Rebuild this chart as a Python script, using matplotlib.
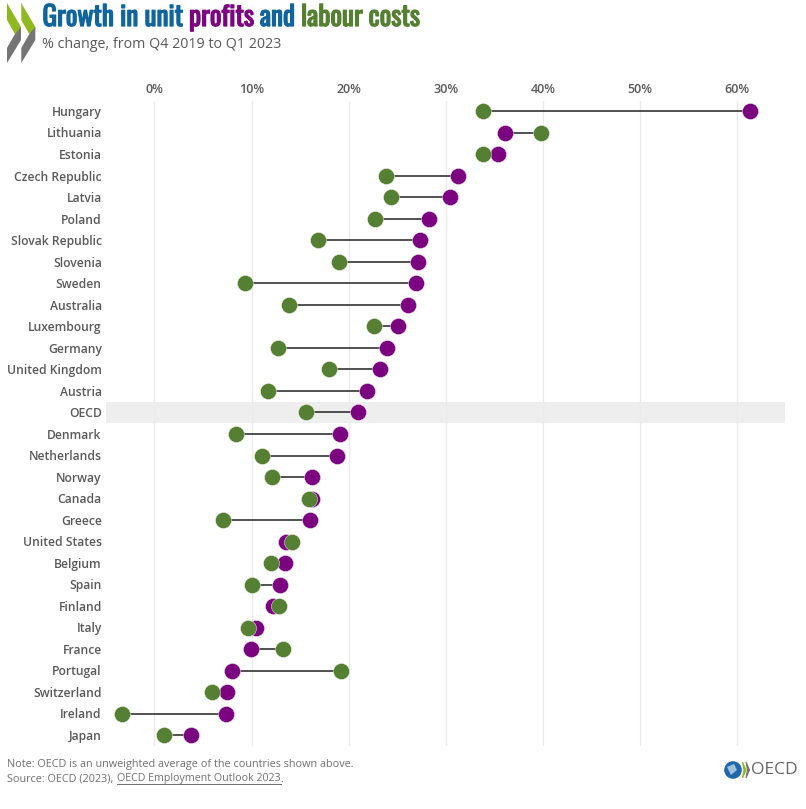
import matplotlib
matplotlib.use("Agg")
import matplotlib.pyplot as plt
import matplotlib.patheffects as pe
from matplotlib.transforms import ScaledTranslation
import numpy as np
from matplotlib.patches import Polygon, Circle

countries = ["Hungary", "Lithuania", "Estonia", "Czech Republic", "Latvia", "Poland",
             "Slovak Republic", "Slovenia", "Sweden", "Australia", "Luxembourg", "Germany",
             "United Kingdom", "Austria", "OECD", "Denmark", "Netherlands", "Norway",
             "Canada", "Greece", "United States", "Belgium", "Spain", "Finland", "Italy",
             "France", "Portugal", "Switzerland", "Ireland", "Japan"]
profits = [61.3, 36.1, 35.4, 31.3, 30.4, 28.3, 27.3, 27.1, 26.9, 26.1, 25.1, 23.9,
           23.2, 21.9, 21.0, 19.1, 18.8, 16.2, 16.2, 16.0, 13.5, 13.4, 12.9, 12.2,
           10.5, 9.9, 8.0, 7.5, 7.4, 3.8]
labour = [33.8, 39.8, 33.8, 23.8, 24.4, 22.7, 16.8, 19.0, 9.3, 13.9, 22.6, 12.7,
          18.0, 11.7, 15.6, 8.4, 11.1, 12.1, 15.9, 7.1, 14.2, 12.0, 10.0, 12.8,
          9.6, 13.2, 19.2, 5.9, -3.3, 1.0]
ticks = [0, 10, 20, 30, 40, 50, 60]

PURPLE = "#7b0380"
GREEN = "#558033"
BLUE = "#0f659c"
TEXT = "#5a5a5a"
NOTE = "#707070"

W, H = 806, 809
plt.rcParams["font.family"] = ["Open Sans", "Noto Sans", "DejaVu Sans"]
fig = plt.figure(figsize=(W / 100, H / 100), dpi=100)

# axes placed in pixels so the rows line up with the reference
ax = fig.add_axes([106 / W, 1 - 746 / H, (785 - 106) / W, (746 - 100.5) / H])
y = np.arange(len(countries))
ax.set_xlim(-4.99, 64.93)
ax.set_ylim(len(countries) - 0.5, -0.5)

ax.axhspan(countries.index("OECD") - 0.5, countries.index("OECD") + 0.5, color="#eeeeee", zorder=0, lw=0)
ax.hlines(y, profits, labour, color="#222222", lw=1.1, zorder=2)
ax.scatter(profits, y, s=135, color=PURPLE, edgecolor="white", linewidth=0.3, zorder=3)
ax.scatter(labour, y, s=135, color=GREEN, edgecolor="white", linewidth=0.3, zorder=4)

ax.set_xticks(ticks)
ax.set_xticklabels([f"{t}%" for t in ticks], fontsize=9, color=TEXT, fontweight=600)
ax.xaxis.tick_top()
ax.set_yticks(y)
ax.set_yticklabels(countries, fontsize=8.7, color=TEXT, fontweight=600)
ax.tick_params(axis="both", length=0)
ax.tick_params(axis="x", pad=3.2)
ax.tick_params(axis="y", pad=3)
# labels sit a touch off the row centres otherwise
nudge = ScaledTranslation(0, 0.3 / 100, fig.dpi_scale_trans)
for lab in ax.get_yticklabels():
    lab.set_transform(lab.get_transform() + nudge)
ax.grid(axis="x", color="#ebebeb", lw=1)
ax.set_axisbelow(True)
for s in ax.spines.values():
    s.set_visible(False)

# title pieces in their own colours, each one starts where the last one ended
renderer = fig.canvas.get_renderer()
x = 42.5
for word, col in [("Growth in unit", BLUE), ("profits", PURPLE), ("and", BLUE),
                  ("labour", GREEN), ("costs", GREEN)]:
    t = fig.text(x / W, 1 - 26 / H, word, fontsize=19.6, color=col,
                 family=["Oswald", "Roboto Condensed", "DejaVu Sans"], va="baseline", ha="left",
                 path_effects=[pe.withStroke(linewidth=0.9, foreground=col)])
    x += t.get_window_extent(renderer).width + 6

fig.text(42.5 / W, 1 - 44 / H, "% change, from Q4 2019 to Q1 2023", fontsize=10.25, color=TEXT, va="center")

fig.text(7 / W, 1 - 764.5 / H, "Note: OECD is an unweighted average of the countries shown above.",
         fontsize=7.8, color=NOTE, va="center")
fig.text(7 / W, 1 - 779 / H, "Source: OECD (2023), ", fontsize=7.8, color=NOTE, va="center")
src = fig.text(117 / W, 1 - 779 / H, "OECD Employment Outlook 2023", fontsize=7.7, color=NOTE,
               va="center")
src_w = src.get_window_extent(renderer).width
fig.add_artist(plt.Line2D([117 / W, (117 + src_w) / W], [1 - 784 / H] * 2, color=NOTE, lw=0.7))
fig.text((117 + src_w) / W, 1 - 779 / H, ".", fontsize=7.8, color=NOTE, va="center")

# logo is drawn on a full-figure axes in pixel coordinates
deco = fig.add_axes([0, 0, 1, 1])
deco.set_xlim(0, W)
deco.set_ylim(H, 0)
deco.axis("off")
deco.patch.set_alpha(0)
for dx in (0, 14.3):
    deco.add_patch(Polygon([(7 + dx, 3), (21 + dx, 27), (21 + dx, 30), (15 + dx, 34), (7 + dx, 20)], color="#8fb91f", lw=0))
    deco.add_patch(Polygon([(21 + dx, 27), (21 + dx, 40), (7 + dx, 63), (7 + dx, 48), (15 + dx, 34)], color="#757575", lw=0))

deco.add_patch(Circle((733, 770), 8.8, color="#1e67a8", lw=0))
deco.add_patch(Polygon([(727, 767), (734, 764), (737, 770), (731, 775)], color="#9fc0da", lw=0))
for dx, col in [(0, "#8fb91f"), (3.5, "#757575")]:
    deco.add_patch(Polygon([(742.5 + dx, 762), (746 + dx, 770), (742.5 + dx, 778), (744 + dx, 770)], color=col, lw=0.8))
deco.text(751.5, 770.5, "OECD", fontsize=12.5, color="#666666", va="center", ha="left")

fig.savefig("out.png", dpi=100)
